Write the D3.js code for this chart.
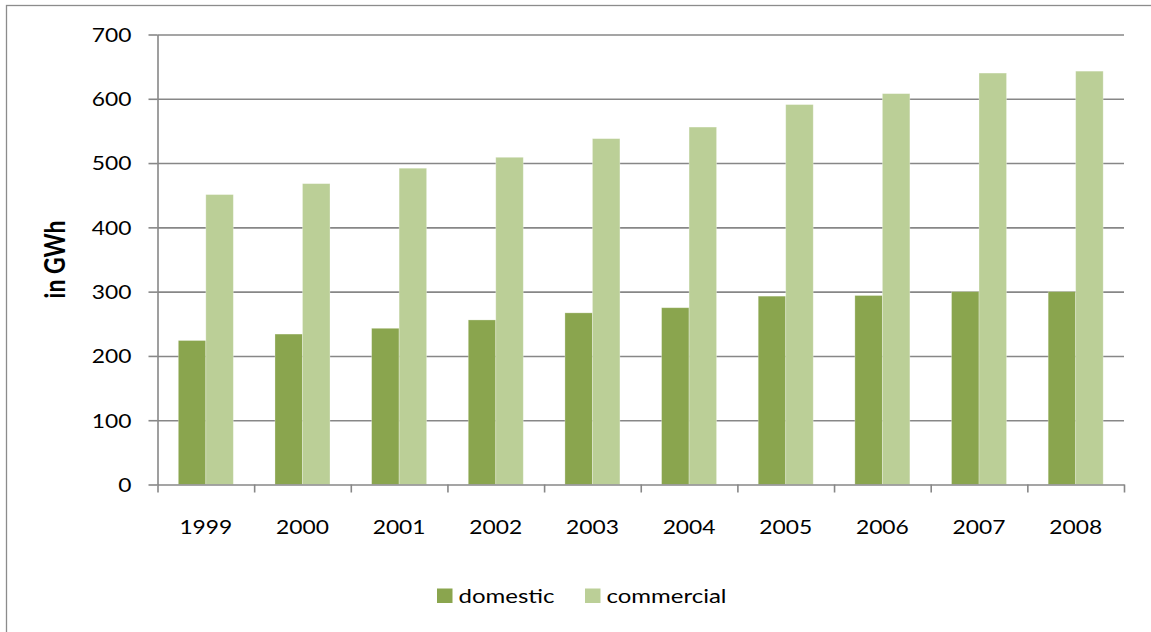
<!DOCTYPE html>
<html>
<head>
<meta charset="utf-8">
<script src="https://cdn.jsdelivr.net/npm/d3@7"></script>
<style>
  html, body { margin: 0; padding: 0; background: #fff; }
  svg { display: block; }
  text { font-family: Lato, "Open Sans", sans-serif; fill: #000; }
</style>
</head>
<body>
<svg id="chart" width="1151" height="632"></svg>
<script>
// Electricity consumption by sector, 1999–2008
const years = ["1999", "2000", "2001", "2002", "2003", "2004", "2005", "2006", "2007", "2008"];
const seriesNames = ["domestic", "commercial"];
const domestic = [224, 234, 243, 256, 267, 275, 293, 294, 300, 300];
const commercial = [451, 468, 492, 509, 538, 556, 591, 608, 640, 643];
const yTicks = [0, 100, 200, 300, 400, 500, 600, 700];
const colors = ["#8aa54e", "#bbcf97"];

const svg = d3.select("#chart");
const plot = { left: 157.5, right: 1124, top: 34.5, bottom: 484.5 };
const FS = 19;      // base font size
const SX = 1.2;     // horizontal widening of the glyphs

// outer chart frame
svg.append("rect")
  .attr("x", 6.5).attr("y", 5.5).attr("width", 1170).attr("height", 650)
  .attr("fill", "none").attr("stroke", "#8c8c8c").attr("stroke-width", 1.3);

const y = d3.scaleLinear().domain([0, 700]).range([plot.bottom, plot.top]);
const x = d3.scaleBand().domain(years).range([plot.left, plot.right]).padding(0);
const xInner = d3.scaleBand().domain(seriesNames)
  .range([(x.bandwidth() - 55) / 2, (x.bandwidth() + 55) / 2]).padding(0);

// horizontal gridlines
svg.append("g")
  .attr("transform", `translate(${plot.left},0)`)
  .call(d3.axisLeft(y).tickValues(yTicks.slice(1)).tickSize(-(plot.right - plot.left)).tickFormat(""))
  .call(g => g.select(".domain").remove())
  .call(g => g.selectAll("line").attr("stroke", "#878787").attr("stroke-width", 1.6));

// bars
const data = years.map((yr, i) => ({ year: yr, values: [domestic[i], commercial[i]] }));
const groups = svg.append("g").selectAll("g").data(data).join("g")
  .attr("transform", d => `translate(${x(d.year)},0)`);
groups.selectAll("rect")
  .data(d => d.values.map((v, k) => ({ key: seriesNames[k], value: v, k })))
  .join("rect")
  .attr("x", d => xInner(d.key))
  .attr("width", xInner.bandwidth())
  .attr("y", d => y(d.value))
  .attr("height", d => y(0) - y(d.value))
  .attr("fill", d => colors[d.k])
  .attr("stroke", "rgba(255,255,255,0.35)")
  .attr("stroke-width", 0.8);

// y axis with outside tick marks and labels
const yAxis = svg.append("g")
  .attr("transform", `translate(${plot.left},0)`)
  .call(d3.axisLeft(y).tickValues(yTicks).tickSize(9).tickSizeOuter(0).tickPadding(17))
  .call(g => g.select(".domain").attr("stroke", "#878787").attr("stroke-width", 1.6))
  .call(g => g.selectAll("line").attr("stroke", "#878787").attr("stroke-width", 1.6));
yAxis.selectAll("text")
  .attr("font-family", "Lato, sans-serif").attr("font-size", FS).attr("fill", "#000")
  .attr("x", -26 / SX)
  .attr("dy", "0.36em")
  .attr("transform", `scale(${SX},1)`);

// x axis: tick marks on category boundaries
const xb = d3.scaleLinear().domain([0, years.length]).range([plot.left, plot.right]);
svg.append("g")
  .attr("transform", `translate(0,${plot.bottom})`)
  .call(d3.axisBottom(xb).tickValues(d3.range(0, years.length + 1)).tickSize(8).tickSizeOuter(0).tickFormat(""))
  .call(g => g.select(".domain").attr("stroke", "#878787").attr("stroke-width", 1.6))
  .call(g => g.selectAll("line").attr("stroke", "#878787").attr("stroke-width", 1.6));

// year labels centred under each category
svg.append("g").selectAll("text").data(years).join("text")
  .attr("transform", d => `translate(${x(d) + x.bandwidth() / 2},534) scale(${SX},1)`)
  .attr("text-anchor", "middle")
  .attr("font-size", FS)
  .text(d => d);

// y axis title
svg.append("text")
  .attr("transform", `translate(65,259.5) scale(${SX},1) rotate(-90)`)
  .attr("text-anchor", "middle")
  .attr("font-size", 23)
  .attr("font-weight", "bold")
  .text("in GWh");

// legend
const legendItems = [
  { name: "domestic", x: 437, color: colors[0] },
  { name: "commercial", x: 585, color: colors[1] }
];
const legend = svg.append("g");
legendItems.forEach(item => {
  legend.append("rect")
    .attr("x", item.x).attr("y", 588.5).attr("width", 15.5).attr("height", 14.5)
    .attr("fill", item.color);
  legend.append("text")
    .attr("transform", `translate(${item.x + 21.5},603) scale(${SX},1)`)
    .attr("font-size", 20)
    .text(item.name);
});
</script>
</body>
</html>
